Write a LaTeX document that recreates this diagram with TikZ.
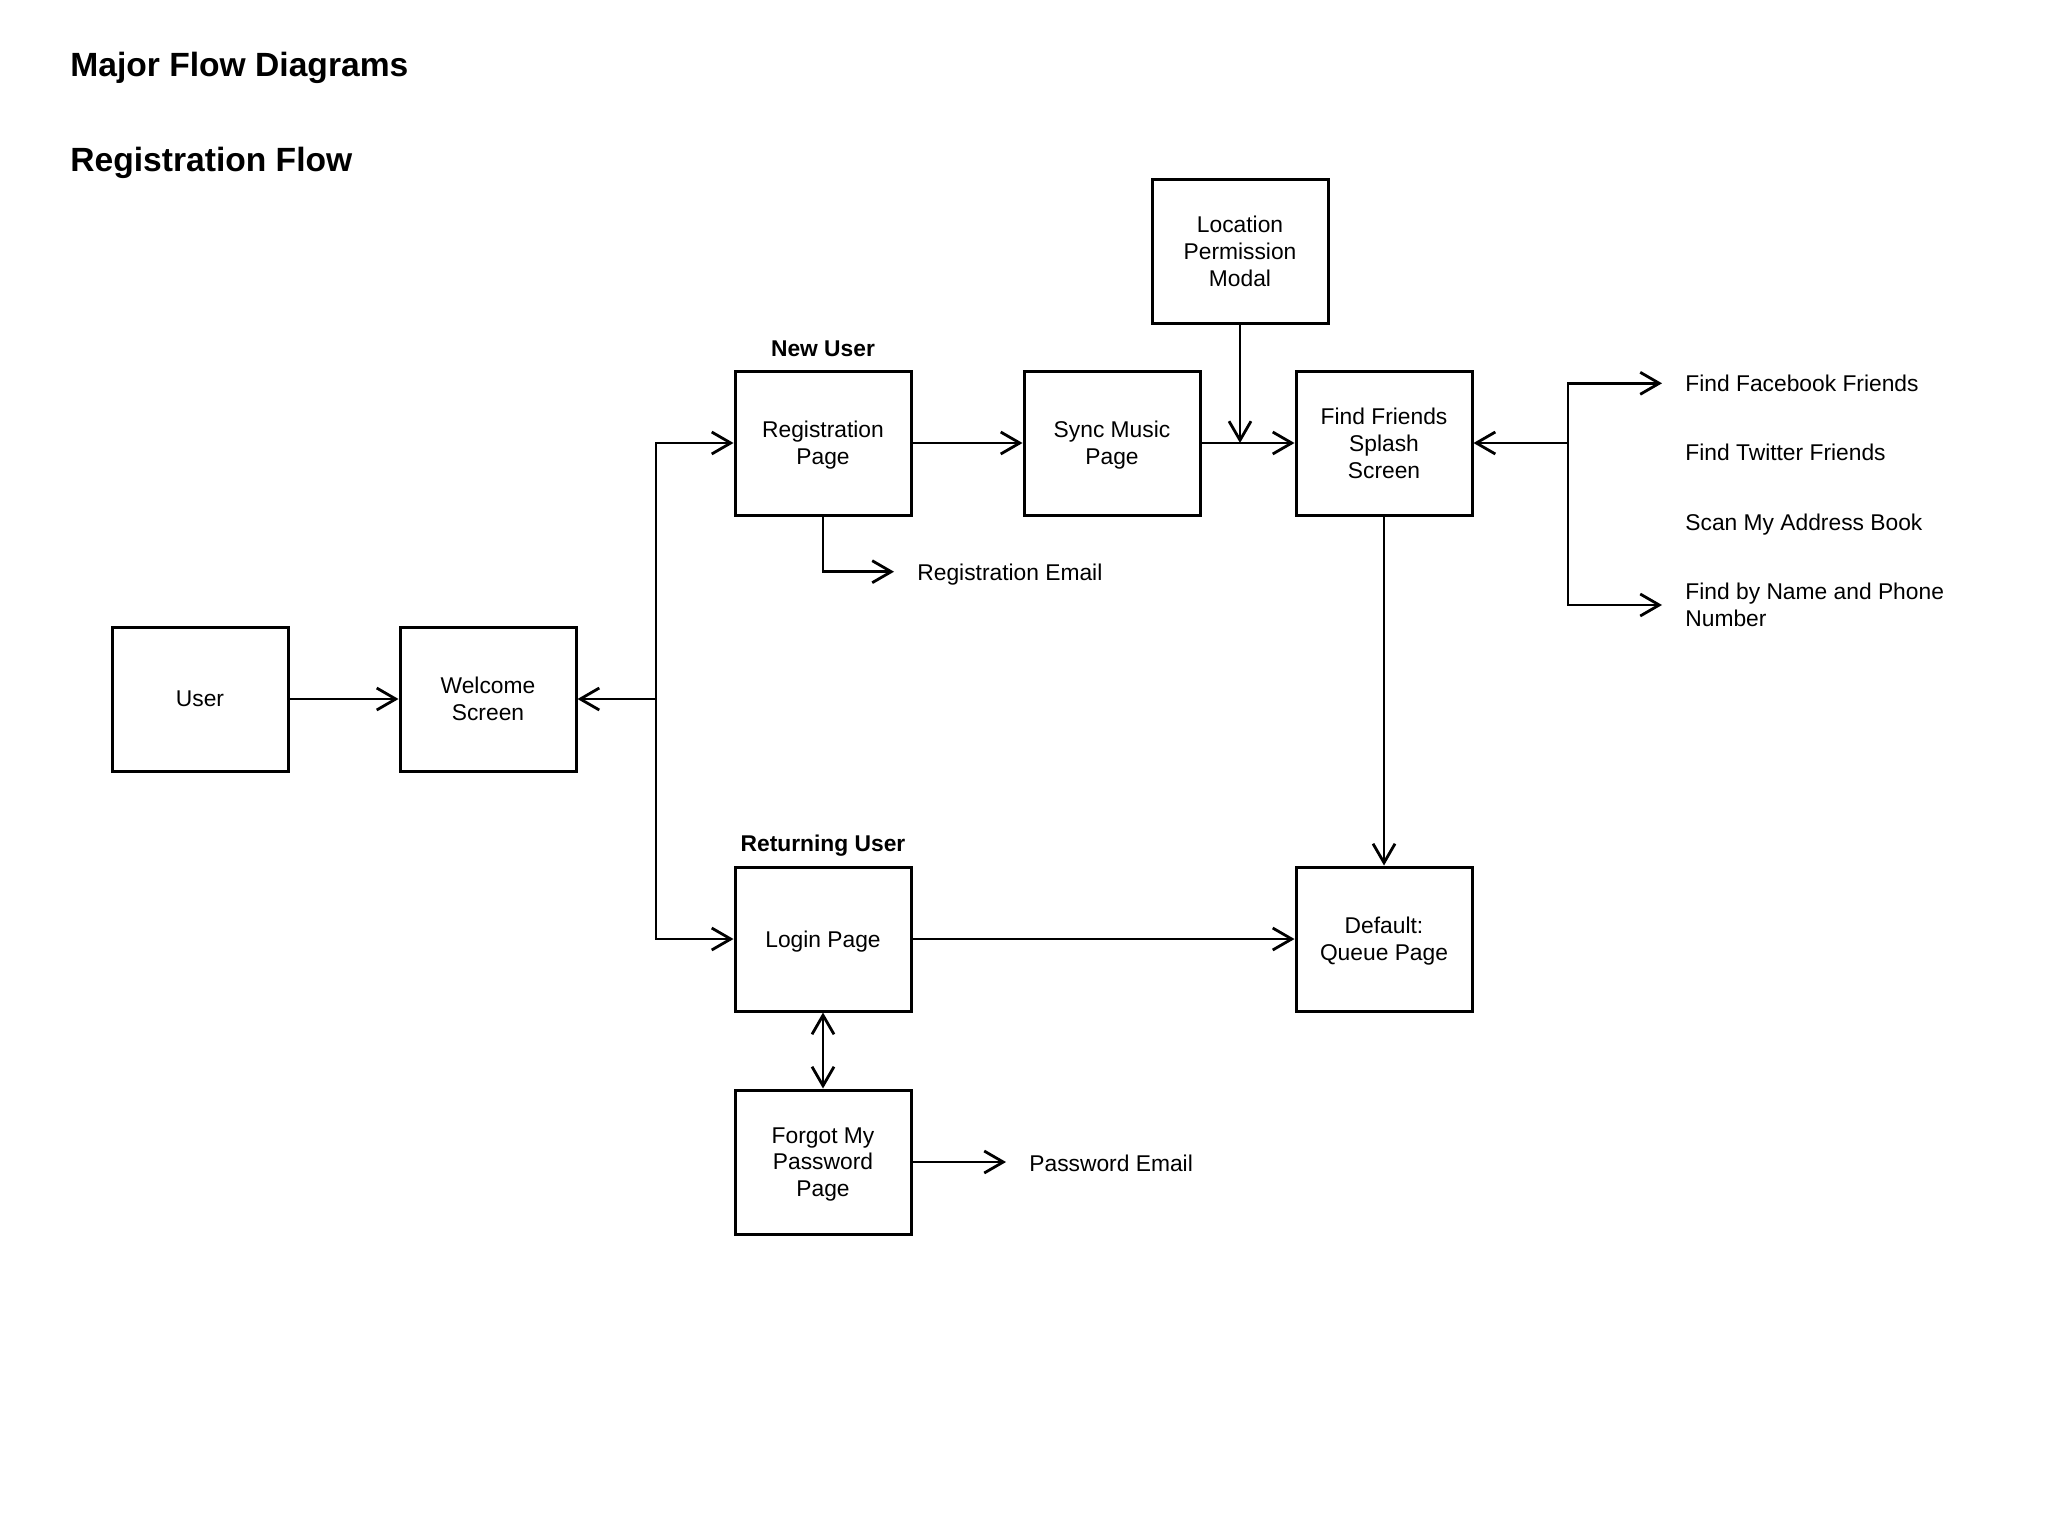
\documentclass[tikz,border=0pt]{standalone}
\usepackage{fontspec}
\setmainfont{Liberation Sans}
\usetikzlibrary{arrows.meta}
\begin{document}
\begin{tikzpicture}[x=0.5pt,y=-0.5pt,
  box/.style={draw, line width=1.5pt, minimum width=88pt, minimum height=72pt, inner sep=0pt, align=center, text depth=0pt, font=\fontsize{11.4}{13.4}\selectfont},
  lbl/.style={inner sep=0pt, font=\fontsize{11.4}{13.4}\selectfont},
  arr/.style={line width=1.4pt, -{Straight Barb[length=9.5pt,width=11pt]}},
  darr/.style={line width=1.4pt, {Straight Barb[length=9.5pt,width=11pt]}-{Straight Barb[length=9.5pt,width=11pt]}},
  ttl/.style={inner sep=0pt, font=\bfseries\fontsize{16.8}{20}\selectfont},
  sub/.style={inner sep=0pt, font=\bfseries\fontsize{11.4}{13.4}\selectfont}]
\useasboundingbox (0,0) rectangle (2048,1536);

% titles
\node[ttl, anchor=base west] (t1) at (70,76) {Major Flow Diagrams};
\node[ttl, anchor=base west] (t2) at (70,171.7) {Registration Flow};

% boxes
\node[box] (user) at (200,699) {User};
\node[box] (welcome) at (488,699) {Welcome\\Screen};
\node[box] (reg) at (823,443) {Registration\\Page};
\node[box] (sync) at (1112,443) {Sync Music\\Page};
\node[box] (loc) at (1240,251) {Location\\Permission\\Modal};
\node[box] (ff) at (1384,443) {Find Friends\\Splash\\Screen};
\node[box] (login) at (823,939) {Login Page};
\node[box] (queue) at (1384,939) {Default:\\Queue Page};
\node[box] (forgot) at (823,1162) {Forgot My\\Password\\Page};

% section labels
\node[sub, anchor=base] (newu) at (823,356) {New User};
\node[sub, anchor=base] (retu) at (823,851) {Returning User};

% text labels
\node[lbl, anchor=base west] (regmail) at (917,580.7) {Registration Email};
\node[lbl, anchor=base west] (pwmail) at (1029,1171.7) {Password Email};
\node[lbl, anchor=base west] (fb) at (1685,391.7) {Find Facebook Friends};
\node[lbl, anchor=base west] (tw) at (1685,460.7) {Find Twitter Friends};
\node[lbl, anchor=base west] (scan) at (1685,530.7) {Scan My Address Book};
\node[lbl, anchor=west, align=left] (name) at (1685,605) {Find by Name and Phone\\Number};

% coordinates
\coordinate (lbus) at (656,699);
\coordinate (rbus) at (1568,443);
\coordinate (merge) at (1240,443);
\coordinate (regtip) at (894,571.7);
\coordinate (pwtip) at (1006,1162);
\coordinate (fbtip) at (1662,383.3);
\coordinate (nametip) at (1662,605);

% connectors
\draw[arr] (user) -- (welcome);
\draw[arr] (lbus) -- (welcome.east);
\draw[arr] (lbus) |- (reg.west);
\draw[arr] (lbus) |- (login.west);
\draw[arr] (reg) -- (sync);
\draw[arr] (sync) -- (ff);
\draw[arr] (loc.south) -- (merge);
\draw[arr] (reg.south) |- (regtip);
\draw[arr] (ff) -- (queue);
\draw[arr] (login) -- (queue);
\draw[darr] (login) -- (forgot);
\draw[arr] (forgot.east) -- (pwtip);
\draw[arr] (rbus) -- (ff.east);
\draw[arr] (rbus) |- (fbtip);
\draw[arr] (rbus) |- (nametip);
\end{tikzpicture}
\end{document}
